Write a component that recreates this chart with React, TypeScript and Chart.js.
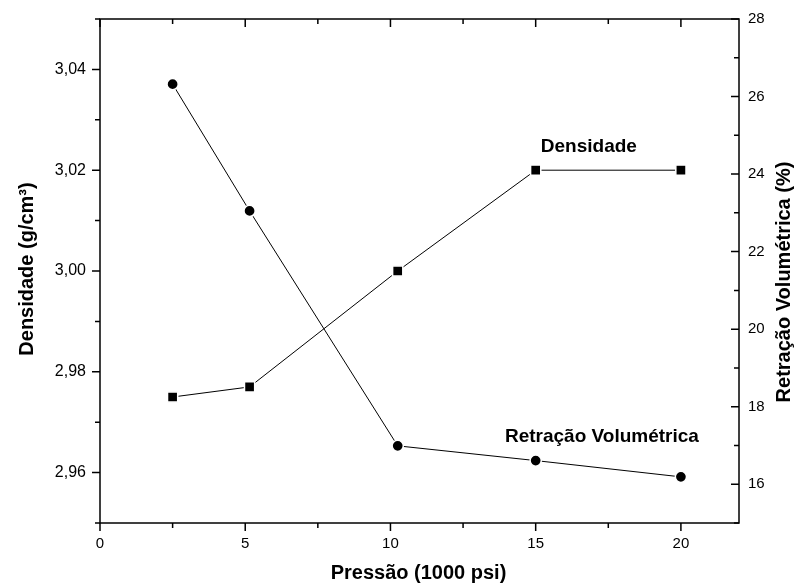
import { useEffect, useRef } from 'react';
import { Chart, registerables } from 'chart.js';

Chart.register(...registerables);

// ---- data ----
const pressure = [2.5, 5.15, 10.25, 15, 20];
const densidade = [2.975, 2.977, 3.0, 3.02, 3.02];
const retracao = [26.32, 23.05, 16.99, 16.61, 16.19];

// ---- ticks ----
const xMajor = [0, 5, 10, 15, 20];
const xMinor = [2.5, 7.5, 12.5, 17.5];
const yLeftMajor = [2.96, 2.98, 3.0, 3.02, 3.04];
const yLeftMinor = [2.95, 2.97, 2.99, 3.01, 3.03, 3.05];
const yRightMajor = [16, 18, 20, 22, 24, 26, 28];
const yRightMinor = [15, 17, 19, 21, 23, 25, 27];

// ---- texts ----
const xTitle = 'Pressão (1000 psi)';
const yLeftTitle = 'Densidade (g/cm³)';
const yRightTitle = 'Retração Volumétrica (%)';
const labelDens = { text: 'Densidade', x: 16.83, y: 3.0236 };
const labelRetr = { text: 'Retração Volumétrica', x: 17.28, y: 17.09 };

const FAMILY = "'Liberation Sans', Arial, sans-serif";

const framePlugin = {
  id: 'frameTicks',
  afterDraw(chart: any) {
    const { ctx, chartArea: a, scales } = chart;
    const sx = scales.x, sy = scales.y, sr = scales.y1;
    const MAJ = 8, MIN = 5;
    ctx.save();
    ctx.strokeStyle = '#000';
    ctx.lineWidth = 1.5;
    ctx.lineCap = 'butt';
    ctx.strokeRect(a.left, a.top, a.right - a.left, a.bottom - a.top);
    ctx.beginPath();
    const tickX = (vals: number[], len: number) => {
      vals.forEach((v) => {
        const px = sx.getPixelForValue(v);
        ctx.moveTo(px, a.bottom);
        ctx.lineTo(px, a.bottom + len);
        ctx.moveTo(px, a.top);
        ctx.lineTo(px, a.top + len);
      });
    };
    tickX(xMajor, MAJ);
    tickX(xMinor, MIN);
    const tickL = (vals: number[], len: number) => {
      vals.forEach((v) => {
        const py = sy.getPixelForValue(v);
        ctx.moveTo(a.left, py);
        ctx.lineTo(a.left - len, py);
      });
    };
    tickL(yLeftMajor, MAJ);
    tickL(yLeftMinor, MIN);
    const tickR = (vals: number[], len: number) => {
      vals.forEach((v) => {
        const py = sr.getPixelForValue(v);
        ctx.moveTo(a.right, py);
        ctx.lineTo(a.right - len, py);
      });
    };
    tickR(yRightMajor, MAJ);
    tickR(yRightMinor, MIN);
    ctx.stroke();

    // titles
    ctx.fillStyle = '#000';
    ctx.font = `bold 20px ${FAMILY}`;
    ctx.textAlign = 'center';
    ctx.textBaseline = 'alphabetic';
    ctx.fillText(xTitle, (a.left + a.right) / 2 - 1, 579);

    ctx.save();
    ctx.translate(33, 269);
    ctx.rotate(-Math.PI / 2);
    ctx.fillText(yLeftTitle, 0, 0);
    ctx.restore();

    ctx.save();
    ctx.translate(790, 282);
    ctx.rotate(-Math.PI / 2);
    ctx.fillText(yRightTitle, 0, 0);
    ctx.restore();

    // annotations
    ctx.font = `bold 19px ${FAMILY}`;
    ctx.fillText(labelDens.text, sx.getPixelForValue(labelDens.x), sy.getPixelForValue(labelDens.y));
    ctx.fillText(labelRetr.text, sx.getPixelForValue(labelRetr.x), sr.getPixelForValue(labelRetr.y));
    ctx.restore();
  },
};

export default function App() {
  const ref = useRef<HTMLCanvasElement | null>(null);

  useEffect(() => {
    if (!ref.current) return;
    const tickFont = { family: FAMILY, size: 15 };
    const chart = new Chart(ref.current, {
      type: 'line',
      data: {
        datasets: [
          {
            label: 'Densidade',
            data: pressure.map((x, i) => ({ x, y: densidade[i] })),
            yAxisID: 'y',
            borderColor: '#000',
            borderWidth: 1,
            backgroundColor: '#000',
            pointStyle: 'rect',
            pointRadius: 7.2,
            pointBackgroundColor: '#000',
            pointBorderColor: '#fff',
            pointBorderWidth: 1.5,
            fill: false,
            tension: 0,
          },
          {
            label: 'Retração Volumétrica',
            data: pressure.map((x, i) => ({ x, y: retracao[i] })),
            yAxisID: 'y1',
            borderColor: '#000',
            borderWidth: 1,
            backgroundColor: '#000',
            pointStyle: 'circle',
            pointRadius: 5.6,
            pointBackgroundColor: '#000',
            pointBorderColor: '#fff',
            pointBorderWidth: 1.5,
            fill: false,
            tension: 0,
          },
        ],
      },
      options: {
        responsive: false,
        animation: false,
        devicePixelRatio: 1,
        layout: { padding: { top: 19, left: 0, right: 0, bottom: 0 } },
        plugins: {
          legend: { display: false },
          tooltip: { enabled: false },
        },
        events: [],
        scales: {
          x: {
            type: 'linear',
            min: 0,
            max: 22,
            grid: { display: false, drawTicks: false },
            border: { display: false },
            ticks: { font: tickFont, color: '#000', padding: 12, maxRotation: 0 },
            afterBuildTicks: (s: any) => {
              s.ticks = xMajor.map((v) => ({ value: v }));
            },
            afterFit: (s: any) => {
              s.height = 61;
              s.paddingLeft = 0;
              s.paddingRight = 0;
            },
          },
          y: {
            type: 'linear',
            position: 'left',
            min: 2.95,
            max: 3.05,
            grid: { display: false, drawTicks: false },
            border: { display: false },
            ticks: {
              font: { family: FAMILY, size: 16 },
              color: '#000',
              padding: 14,
              callback: (v: any) => Number(v).toFixed(2).replace('.', ','),
            },
            afterBuildTicks: (s: any) => {
              s.ticks = yLeftMajor.map((v) => ({ value: v }));
            },
            afterFit: (s: any) => {
              s.width = 100;
              s.paddingTop = 0;
              s.paddingBottom = 0;
            },
          },
          y1: {
            type: 'linear',
            position: 'right',
            min: 15,
            max: 28,
            grid: { display: false, drawTicks: false },
            border: { display: false },
            ticks: { font: tickFont, color: '#000', padding: 9 },
            afterBuildTicks: (s: any) => {
              s.ticks = yRightMajor.map((v) => ({ value: v }));
            },
            afterFit: (s: any) => {
              s.width = 59;
              s.paddingTop = 0;
              s.paddingBottom = 0;
            },
          },
        },
      },
      plugins: [framePlugin],
    } as any);
    return () => chart.destroy();
  }, []);

  return (
    <div style={{ position: 'fixed', left: 0, top: 0, width: 798, height: 584, background: '#fff' }}>
      <canvas ref={ref} width={798} height={584} style={{ display: 'block' }} />
    </div>
  );
}
